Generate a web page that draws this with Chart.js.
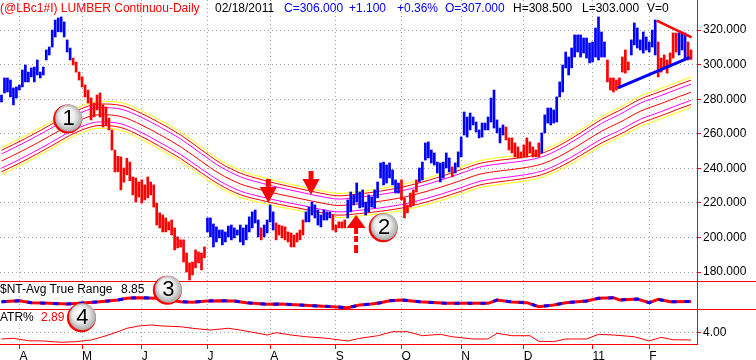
<!DOCTYPE html>
<html>
<head>
<meta charset="utf-8">
<title>LUMBER Continuou-Daily</title>
<script src="https://cdn.jsdelivr.net/npm/chart.js@4.4.1/dist/chart.umd.min.js"></script>
<style>
  html, body { margin: 0; padding: 0; background: #ffffff; }
  #box { position: relative; width: 756px; height: 360px; overflow: hidden; font-family: "Liberation Sans", Arial, sans-serif; }
  #ChartLumber { position: absolute; left: 0; top: 0; }
  .lbl { position: absolute; font-size: 12px; line-height: 14px; white-space: nowrap; }
</style>
</head>
<body>
<div id="box">
  <canvas id="ChartLumber" width="756" height="360"></canvas>
  <span class="lbl" style="left:0px;top:1px;color:#ff0000">(@LBc1#I) LUMBER Continuou-Daily</span>
  <span class="lbl" style="left:215px;top:1px;color:#000000">02/18/2011</span>
  <span class="lbl" style="left:284px;top:1px;color:#0000ff">C=306.000</span>
  <span class="lbl" style="left:349px;top:1px;color:#0000ff">+1.100</span>
  <span class="lbl" style="left:397px;top:1px;color:#0000ff">+0.36%</span>
  <span class="lbl" style="left:445px;top:1px;color:#0000ff">O=307.000</span>
  <span class="lbl" style="left:513px;top:1px;color:#000000">H=308.500</span>
  <span class="lbl" style="left:582px;top:1px;color:#000000">L=303.000</span>
  <span class="lbl" style="left:647px;top:1px;color:#000000">V=0</span>
  <span class="lbl" style="left:0px;top:282px;color:#000000">$NT-Avg True Range</span>
  <span class="lbl" style="left:121px;top:282px;color:#000000">8.85</span>
  <span class="lbl" style="left:0px;top:310px;color:#000000">ATR%</span>
  <span class="lbl" style="left:41px;top:310px;color:#ff0000">2.89</span>
</div>
<script>
// axis labels
const priceTicks = [180, 200, 220, 240, 260, 280, 300, 320];
const pctTicks = [4];
const monthIdx = [6, 27, 47, 69, 90, 112, 134, 154, 175, 198, 217];
const monthLabels = ['A', 'M', 'J', 'J', 'A', 'S', 'O', 'N', 'D', '11', 'F'];

// daily bars, one per session (index 0 = late March 2010)
const highs = [
  282.4, 292.3, 292.3, 291.1, 286.5, 287.1, 288.2, 296.9, 299.8, 295.7,
  298.1, 298.6, 302.7, 295.7, 298.6, 308.5, 310.2, 320.0, 325.8, 327.0,
  327.6, 324.7, 314.3, 309.6, 303.8, 301.5, 295.7, 292.9, 288.2, 285.3,
  280.7, 277.8, 282.4, 283.6, 276.7, 275.5, 269.1, 262.2, 250.6, 247.0,
  246.6, 240.2, 245.8, 243.6, 235.0, 234.4, 232.1, 233.3, 230.4, 235.0,
  232.1, 230.4, 219.9, 214.2, 213.0, 211.3, 209.0, 210.1, 205.5, 200.3,
  198.6, 198.6, 191.0, 185.3, 185.8, 192.8, 191.6, 191.0, 194.5, 211.3,
  211.3, 207.8, 206.1, 204.3, 204.3, 203.2, 206.6, 207.2, 205.5, 204.3,
  207.2, 205.5, 207.2, 211.9, 214.8, 215.9, 210.1, 205.5, 207.2, 210.1,
  218.8, 214.8, 208.4, 207.2, 206.6, 206.1, 203.2, 202.6, 201.4, 202.6,
  204.3, 210.1, 214.8, 217.6, 220.5, 218.8, 215.9, 213.0, 215.9, 214.8,
  214.8, 213.0, 207.2, 209.0, 209.0, 210.1, 221.7, 226.3, 224.6, 231.5,
  226.3, 227.5, 220.5, 224.6, 223.4, 227.5, 232.1, 243.1, 243.6, 241.9,
  243.1, 239.1, 233.3, 231.5, 233.3, 222.9, 218.8, 225.7, 227.5, 233.3,
  240.2, 243.6, 254.7, 255.3, 250.6, 248.9, 243.6, 243.1, 243.6, 248.9,
  246.0, 240.8, 243.1, 249.5, 258.1, 272.6, 269.7, 272.0, 269.7, 266.8,
  262.2, 266.2, 266.2, 269.7, 280.7, 285.3, 268.0, 263.3, 265.1, 263.9,
  257.6, 257.6, 254.7, 252.4, 249.5, 253.5, 257.6, 255.3, 252.4, 250.6,
  254.7, 260.5, 270.9, 274.9, 274.9, 273.8, 281.3, 290.0, 299.8, 307.3,
  304.4, 309.6, 317.2, 317.2, 317.2, 315.4, 315.4, 312.5, 313.1, 321.2,
  327.6, 318.9, 313.1, 302.7, 292.3, 292.3, 291.1, 292.3, 304.4, 308.5,
  301.5, 314.3, 324.1, 321.2, 314.3, 318.9, 316.0, 313.1, 320.0, 325.8,
  313.1, 303.8, 305.6, 302.7, 306.7, 318.3, 318.3, 318.3, 318.9, 318.3,
  313.1, 308.5
];
const lows = [
  278.4, 283.6, 284.2, 281.3, 276.7, 280.7, 285.3, 287.1, 290.0, 290.0,
  292.9, 290.0, 294.0, 292.3, 294.0, 302.7, 305.6, 310.2, 316.0, 319.0,
  318.9, 316.0, 307.3, 302.7, 299.8, 295.7, 291.1, 287.1, 281.3, 277.8,
  268.0, 269.7, 273.8, 269.7, 263.9, 265.1, 262.2, 250.6, 237.9, 238.0,
  227.5, 232.0, 236.3, 232.8, 224.6, 220.5, 223.4, 219.9, 221.7, 222.9,
  224.6, 217.6, 207.2, 205.5, 203.2, 203.2, 204.3, 201.4, 192.8, 193.9,
  194.5, 185.8, 180.0, 175.4, 178.3, 182.4, 185.3, 181.2, 188.2, 203.2,
  200.3, 194.5, 197.4, 199.7, 195.7, 197.4, 200.3, 198.6, 199.7, 201.4,
  197.4, 195.7, 198.6, 203.2, 205.5, 208.4, 200.3, 198.6, 200.3, 202.6,
  209.0, 204.3, 198.6, 201.4, 199.7, 198.6, 197.4, 194.5, 194.5, 197.4,
  198.6, 201.4, 209.0, 209.0, 213.0, 211.3, 207.2, 206.1, 210.1, 210.1,
  211.3, 204.3, 203.2, 205.5, 205.5, 205.5, 211.3, 214.8, 218.8, 220.5,
  217.1, 217.6, 213.0, 214.8, 217.6, 217.1, 222.9, 234.4, 230.4, 231.5,
  234.4, 230.4, 225.7, 225.7, 221.7, 211.3, 214.2, 217.6, 218.8, 226.3,
  232.1, 233.3, 244.8, 246.0, 243.1, 241.9, 237.3, 232.1, 234.4, 240.2,
  237.9, 235.0, 237.3, 240.8, 246.6, 259.3, 258.1, 262.2, 265.1, 261.0,
  257.6, 258.1, 262.2, 262.2, 266.8, 263.3, 260.5, 254.7, 259.3, 256.4,
  250.6, 248.9, 246.6, 246.0, 246.0, 246.6, 246.6, 248.9, 246.6, 246.6,
  246.6, 248.9, 260.5, 266.2, 265.1, 266.2, 266.8, 281.3, 284.2, 298.1,
  294.0, 298.1, 304.4, 307.3, 304.4, 306.7, 303.8, 301.0, 301.5, 304.4,
  302.7, 304.4, 304.4, 290.0, 285.3, 284.2, 285.3, 286.5, 295.7, 295.1,
  296.9, 305.6, 311.4, 309.6, 308.5, 306.7, 308.5, 307.3, 310.2, 305.6,
  292.9, 295.7, 298.1, 295.1, 298.6, 303.8, 307.3, 305.6, 308.5, 303.8,
  302.7, 303.0
];
// B = blue bar, R = red bar
const barDir = [
  'BBBBBBBBBB', 'BBBBBBBBBB', 'BBBBRRRRRR', 'RRRRRRRRRR', 'RRRRRRRRRR',
  'RRRRRRRRRR', 'RRRRRRRRRB', 'BBBBBBBBBB', 'BBBBBBBRBB', 'BBRRRRRRRR',
  'RRBBBBBBBB', 'BRRRRRBBBB', 'BBBBBBBBBB', 'BBBBRRRRRR', 'BBBBBBBBBB',
  'BRBBBBBBBB', 'BBBBBBBBBR', 'RRRRRRRRRR', 'RBBBBBBBBB', 'BBBBBBBBBB',
  'BBBRRRRRRR', 'RBBBBBBBBB', 'RRRRRRRBBB', 'RR'
].join('').split('');

// envelope around the average
const bandIdx = [0, 8, 16, 25, 33, 40, 47, 53, 60, 67, 73, 80, 87, 93, 100, 107, 113, 120,
  127, 134, 140, 147, 154, 160, 167, 174, 181, 187, 194, 201, 207, 214, 221, 227, 231];
const bandMid = [244.2, 251, 258.5, 267, 271, 270, 265, 259.5, 252.5, 244, 237, 231, 227.5, 225,
  222.5, 220, 218.5, 219.5, 221, 223, 225.5, 229, 233, 236.5, 238.5, 240, 242.5, 247, 254,
  261.5, 266.5, 273, 277.5, 281.5, 284];
const bandHalf = [7.8, 7.8, 7.8, 7.8, 7.8, 8.0, 8.3, 8.5, 8.5, 8.3, 8.0, 7.8, 7.5, 7.3, 7.1,
  7.0, 7.0, 7.1, 7.3, 7.5, 7.6, 7.7, 7.8, 7.8, 7.8, 7.7, 7.7, 7.9, 8.2, 8.5, 8.7, 8.8, 8.8, 8.8, 8.8];
const bandShare = [1, 0.8, 0.53, 0, -0.53, -0.8, -1];
const bandColors = ['#ffff00', '#ff0000', '#ff00ff', '#ff0000', '#ff00ff', '#ff0000', '#ffff00'];

// triangle drawn on the last weeks
const resIdx = [219.5, 231.2];
const resPrice = [325.4, 315.8];
const supIdx = [206.5, 230.6];
const supPrice = [286.5, 304.2];

// $NT-Avg True Range
const atrIdx = [0, 6, 10, 16, 22, 26, 33, 39, 42, 46, 52, 60, 64, 69, 73, 78, 82, 89, 93, 100,
  106, 111, 116, 120, 124, 127, 130, 134, 140, 149, 156, 163, 166, 171, 176, 180, 185, 189,
  196, 200, 205, 207, 213, 217, 220, 224, 231];
const atrVal = [8.80, 8.98, 8.63, 8.52, 8.39, 8.52, 8.80, 9.11, 9.41, 9.52, 9.41, 8.80, 8.70,
  8.93, 8.98, 8.93, 8.63, 8.34, 8.39, 8.21, 8.04, 7.91, 7.73, 8.21, 8.39, 8.63, 8.98, 9.11,
  8.80, 8.52, 8.52, 8.52, 9.11, 8.75, 8.63, 7.91, 8.21, 8.63, 8.93, 9.41, 9.52, 9.11, 9.29,
  8.63, 9.23, 8.80, 8.85];

// ATR%
const pctIdx = [0, 4, 9, 14, 20, 25, 30, 34, 39, 42, 46, 50, 54, 60, 64, 70, 76, 80, 86, 89,
  92, 97, 102, 109, 116, 120, 126, 131, 136, 141, 147, 151, 158, 163, 166, 171, 177, 180,
  185, 189, 196, 200, 205, 212, 217, 221, 225, 231];
const pctVal = [3.03, 3.13, 2.78, 2.74, 2.55, 2.64, 2.88, 3.36, 4.09, 4.59, 4.92, 5.07, 4.92,
  4.82, 4.59, 4.34, 4.59, 4.34, 3.86, 3.61, 3.95, 3.61, 3.36, 3.13, 2.74, 3.13, 3.5, 4.09,
  4.09, 3.51, 3.71, 3.36, 3.03, 3.03, 3.86, 3.51, 3.51, 2.69, 2.64, 3.03, 3.03, 3.71, 3.61,
  3.36, 2.74, 3.27, 2.92, 2.89];

// notes put on the chart
const arrows = [
  { idx: 89.4, price: 220.0, dir: 'down' },
  { idx: 103.7, price: 224.6, dir: 'down' },
  { idx: 118.8, price: 213.0, dir: 'up' }
];
const badges = [
  { n: 1, idx: 22.5, val: 269.1, axis: 'y' },
  { n: 2, idx: 128.2, val: 206.2, axis: 'y' },
  { n: 3, idx: 55.9, val: 11.04, axis: 'yAtr' },
  { n: 4, idx: 27.1, val: 6.28, axis: 'yPct' }
];

Chart.defaults.font.family = '"Liberation Sans", Arial, sans-serif';
Chart.defaults.font.size = 12;

const gridGray = '#a8a8a8';
const RED = '#ff0000';
const BLUE = '#0000ff';

function fixAxis(w, h) {
  return function (s) {
    if (w) s.width = w;
    if (h) s.height = h;
    s.paddingTop = 0; s.paddingBottom = 0; s.paddingLeft = 0; s.paddingRight = 0;
  };
}

function drawArrow(ctx, x, y, dir) {
  ctx.fillStyle = RED;
  ctx.beginPath();
  if (dir === 'down') {
    ctx.moveTo(x - 8.5, y - 16); ctx.lineTo(x + 8.5, y - 16); ctx.lineTo(x, y);
    ctx.closePath(); ctx.fill();
    ctx.fillRect(x - 2.5, y - 24, 5, 8);
  } else {
    ctx.moveTo(x - 9.5, y + 13); ctx.lineTo(x + 9.5, y + 13); ctx.lineTo(x, y);
    ctx.closePath(); ctx.fill();
    ctx.fillRect(x - 2, y + 13, 4, 6);
    ctx.fillRect(x - 2, y + 21, 4, 6);
    ctx.fillRect(x - 2, y + 30, 4, 8);
  }
}

function drawBadge(ctx, cx, cy, n) {
  ctx.beginPath();
  ctx.arc(cx - 1, cy + 1, 14.5, 0, Math.PI * 2);
  ctx.fillStyle = RED; ctx.fill();
  const g = ctx.createRadialGradient(cx - 4, cy - 5, 1, cx, cy, 14);
  g.addColorStop(0, '#ffffff');
  g.addColorStop(0.55, '#ececec');
  g.addColorStop(1, '#a4a4a4');
  ctx.beginPath();
  ctx.arc(cx, cy, 13.5, 0, Math.PI * 2);
  ctx.fillStyle = g; ctx.fill();
  ctx.fillStyle = '#000000';
  ctx.font = '22px "Liberation Sans", Arial, sans-serif';
  ctx.textAlign = 'center'; ctx.textBaseline = 'middle';
  ctx.fillText(String(n), cx, cy + 1);
}

const panelDecor = {
  id: 'panelDecor',
  afterDatasetsDraw(chart) {
    const ctx = chart.ctx;
    const xs = chart.scales.x;
    ctx.save();
    ctx.strokeStyle = RED; ctx.lineWidth = 1;
    ['y', 'yAtr'].forEach(function (id) {
      const yy = Math.round(chart.scales[id].bottom) + 0.5;
      ctx.beginPath(); ctx.moveTo(0, yy); ctx.lineTo(chart.width, yy); ctx.stroke();
    });
    arrows.forEach(function (a) {
      drawArrow(ctx, xs.getPixelForValue(a.idx), chart.scales.y.getPixelForValue(a.price), a.dir);
    });
    badges.forEach(function (b) {
      drawBadge(ctx, xs.getPixelForValue(b.idx), chart.scales[b.axis].getPixelForValue(b.val), b.n);
    });
    ctx.restore();
  }
};

const datasets = [];
datasets.push({
  type: 'bar',
  label: 'LUMBER',
  data: highs.map(function (h, i) { return { x: i, y: [lows[i], h] }; }),
  backgroundColor: barDir.map(function (d) { return d === 'B' ? BLUE : RED; }),
  borderWidth: 0,
  barThickness: 2,
  grouped: false,
  yAxisID: 'y',
  order: 2
});
bandShare.forEach(function (k, j) {
  datasets.push({
    type: 'line',
    label: 'band ' + j,
    data: bandIdx.map(function (x, i) { return { x: x, y: bandMid[i] + k * bandHalf[i] }; }),
    borderColor: bandColors[j],
    borderWidth: 1,
    pointRadius: 0,
    cubicInterpolationMode: 'monotone',
    yAxisID: 'y',
    order: 3
  });
});
datasets.push({
  type: 'line', label: 'resistance',
  data: resIdx.map(function (x, i) { return { x: x, y: resPrice[i] }; }),
  borderColor: RED, borderWidth: 2.5, pointRadius: 0, yAxisID: 'y', order: 1
});
datasets.push({
  type: 'line', label: 'support',
  data: supIdx.map(function (x, i) { return { x: x, y: supPrice[i] }; }),
  borderColor: BLUE, borderWidth: 3, pointRadius: 0, yAxisID: 'y', order: 1
});
datasets.push({
  type: 'line', label: 'ATR',
  data: atrIdx.map(function (x, i) { return { x: x, y: atrVal[i] }; }),
  borderColor: RED, borderWidth: 3, pointRadius: 0, yAxisID: 'yAtr', order: 1
});
datasets.push({
  type: 'line', label: 'ATR dash',
  data: atrIdx.map(function (x, i) { return { x: x, y: atrVal[i] }; }),
  borderColor: BLUE, borderWidth: 3, borderDash: [5, 8], pointRadius: 0, yAxisID: 'yAtr', order: 0
});
datasets.push({
  type: 'line', label: 'ATR%',
  data: pctIdx.map(function (x, i) { return { x: x, y: pctVal[i] }; }),
  borderColor: RED, borderWidth: 1, pointRadius: 0, yAxisID: 'yPct', order: 1
});

new Chart(document.getElementById('ChartLumber'), {
  type: 'bar',
  data: { datasets: datasets },
  plugins: [panelDecor],
  options: {
    responsive: false,
    devicePixelRatio: 1,
    animation: false,
    events: [],
    layout: { padding: 0 },
    plugins: { legend: { display: false }, tooltip: { enabled: false } },
    scales: {
      x: {
        type: 'linear', position: 'bottom', min: -0.5, max: 233, offset: false,
        afterBuildTicks: function (s) { s.ticks = monthIdx.map(function (v) { return { value: v }; }); },
        afterFit: fixAxis(0, 16),
        ticks: {
          callback: function (v, i) { return monthLabels[i]; },
          color: '#000000', padding: 0, maxRotation: 0, autoSkip: false, align: 'start'
        },
        grid: { color: gridGray, tickColor: RED, tickLength: 5, offset: false },
        border: { color: RED, dash: [1, 3] }
      },
      y: {
        type: 'linear', position: 'right', stack: 'panes', stackWeight: 281,
        min: 174.8, max: 337.4,
        afterBuildTicks: function (s) { s.ticks = priceTicks.map(function (v) { return { value: v }; }); },
        afterFit: fixAxis(59, 0),
        ticks: { callback: function (v) { return v.toFixed(3); }, color: '#000000', padding: 2 },
        grid: { color: gridGray, tickColor: RED, tickLength: 4 },
        border: { color: RED, dash: [1, 3] }
      },
      yAtr: {
        type: 'linear', position: 'right', stack: 'panes', stackWeight: 28,
        min: 7.5, max: 12.5,
        afterFit: fixAxis(59, 0),
        ticks: { display: false },
        grid: { drawOnChartArea: false, drawTicks: false },
        border: { color: RED }
      },
      yPct: {
        type: 'linear', position: 'right', stack: 'panes', stackWeight: 35,
        min: 2.3, max: 7.4,
        afterBuildTicks: function (s) { s.ticks = pctTicks.map(function (v) { return { value: v }; }); },
        afterFit: fixAxis(59, 0),
        ticks: { callback: function (v) { return v.toFixed(2); }, color: '#000000', padding: 2 },
        grid: { color: gridGray, tickColor: RED, tickLength: 4 },
        border: { color: RED, dash: [1, 3] }
      }
    }
  }
});
</script>
</body>
</html>
